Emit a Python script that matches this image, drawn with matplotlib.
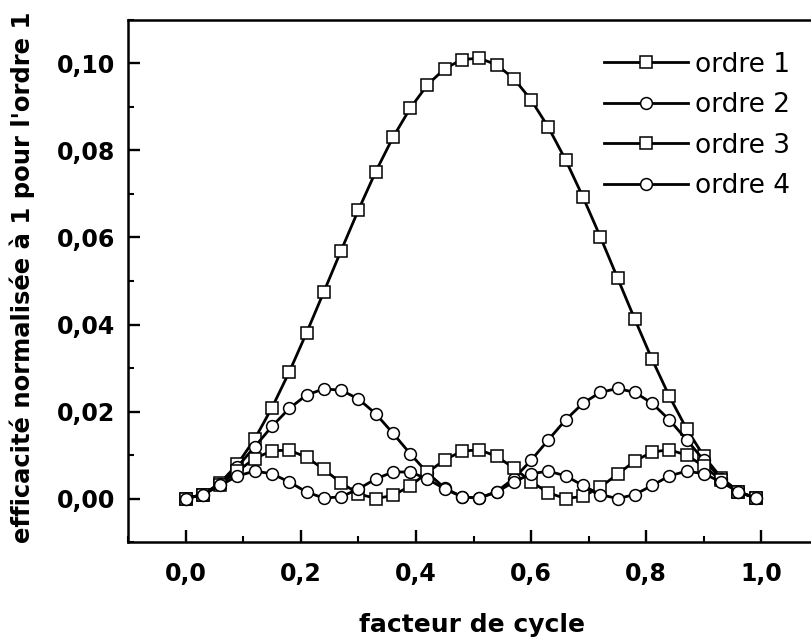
#efficacite de diffraction des ordres 1 a 4 en fonction du facteur de cycle

#importing the libraries
import matplotlib.pyplot as plt
from matplotlib.ticker import FuncFormatter, MultipleLocator

#data
facteur = [0.00, 0.03, 0.06, 0.09, 0.12, 0.15, 0.18, 0.21, 0.24, 0.27, 0.30, 0.33,
           0.36, 0.39, 0.42, 0.45, 0.48, 0.51, 0.54, 0.57, 0.60, 0.63, 0.66, 0.69,
           0.72, 0.75, 0.78, 0.81, 0.84, 0.87, 0.90, 0.93, 0.96, 0.99]
ordre1 = [0.0000, 0.0009, 0.0036, 0.0079, 0.0137, 0.0209, 0.0291, 0.0381, 0.0475, 0.0570,
          0.0663, 0.0751, 0.0830, 0.0897, 0.0951, 0.0988, 0.1009, 0.1012, 0.0997, 0.0965,
          0.0916, 0.0853, 0.0778, 0.0693, 0.0602, 0.0507, 0.0412, 0.0320, 0.0235, 0.0160,
          0.0097, 0.0048, 0.0016, 0.0001]
ordre2 = [0.0000, 0.0009, 0.0034, 0.0073, 0.0119, 0.0166, 0.0207, 0.0238, 0.0252, 0.0249,
          0.0229, 0.0195, 0.0150, 0.0103, 0.0059, 0.0024, 0.0004, 0.0001, 0.0016, 0.0046,
          0.0088, 0.0135, 0.0181, 0.0219, 0.0244, 0.0253, 0.0244, 0.0219, 0.0181, 0.0135,
          0.0088, 0.0046, 0.0016, 0.0001]
ordre3 = [0.0000, 0.0009, 0.0032, 0.0063, 0.0092, 0.0110, 0.0111, 0.0095, 0.0067, 0.0036,
          0.0011, 0.0000, 0.0007, 0.0029, 0.0060, 0.0089, 0.0109, 0.0112, 0.0097, 0.0070,
          0.0039, 0.0013, 0.0000, 0.0005, 0.0026, 0.0056, 0.0086, 0.0107, 0.0112, 0.0100,
          0.0074, 0.0042, 0.0015, 0.0001]
ordre4 = [0.0000, 0.0009, 0.0030, 0.0052, 0.0063, 0.0057, 0.0038, 0.0015, 0.0001, 0.0004,
          0.0022, 0.0045, 0.0061, 0.0061, 0.0045, 0.0022, 0.0004, 0.0001, 0.0015, 0.0038,
          0.0057, 0.0063, 0.0052, 0.0030, 0.0009, 0.0000, 0.0009, 0.0030, 0.0052, 0.0063,
          0.0057, 0.0038, 0.0015, 0.0001]

#figure
fig = plt.figure(figsize=(8.12, 6.43), dpi=100)
ax = fig.add_axes([0.1577, 0.157, 0.851, 0.812])

style = dict(color='black', mfc='white', mec='black', mew=1.1)
ax.plot(facteur, ordre1, '-', lw=2.0, marker='s', ms=8, label='ordre 1', **style)
ax.plot(facteur, ordre2, '-', lw=2.0, marker='o', ms=8.5, label='ordre 2', **style)
ax.plot(facteur, ordre3, '-', lw=2.0, marker='s', ms=8, label='ordre 3', **style)
ax.plot(facteur, ordre4, '-', lw=2.0, marker='o', ms=8.5, label='ordre 4', **style)

ax.set_xlim(-0.1, 1.1)
ax.set_ylim(-0.01, 0.11)

#ticks
ax.xaxis.set_major_locator(MultipleLocator(0.2))
ax.xaxis.set_minor_locator(MultipleLocator(0.1))
ax.yaxis.set_major_locator(MultipleLocator(0.02))
ax.yaxis.set_minor_locator(MultipleLocator(0.01))
ax.xaxis.set_major_formatter(FuncFormatter(lambda v, p: f'{v:.1f}'.replace('.', ',')))
ax.yaxis.set_major_formatter(FuncFormatter(lambda v, p: f'{v:.2f}'.replace('.', ',')))
ax.tick_params(which='major', direction='in', length=8.5, width=1.7,
               top=False, right=False, labelsize=17)
ax.tick_params(which='minor', direction='in', length=4.3, width=1.5,
               top=False, right=False)
ax.tick_params(axis='x', pad=14.5)
ax.tick_params(axis='y', pad=9.5)
for lab in ax.get_xticklabels() + ax.get_yticklabels():
    lab.set_fontweight('bold')
    lab.set_family('DejaVu Sans')

for s in ax.spines.values():
    s.set_linewidth(1.8)

#labels
fig.text(0.581, 0.028, 'facteur de cycle', ha='center', va='center',
         fontsize=18, fontweight='bold', family='DejaVu Sans')
fig.text(0.028, 0.568, "efficacité normalisée à 1 pour l'ordre 1", rotation=90,
         ha='center', va='center', fontsize=17.5, fontweight='bold', family='DejaVu Sans')

#legend
ax.legend(loc='upper left', bbox_to_anchor=(0.655, 0.985), frameon=False,
          handlelength=3.15, handletextpad=0.27, labelspacing=0.55,
          prop={'family': 'DejaVu Sans', 'size': 19})

fig.savefig('out.png', dpi=100)
